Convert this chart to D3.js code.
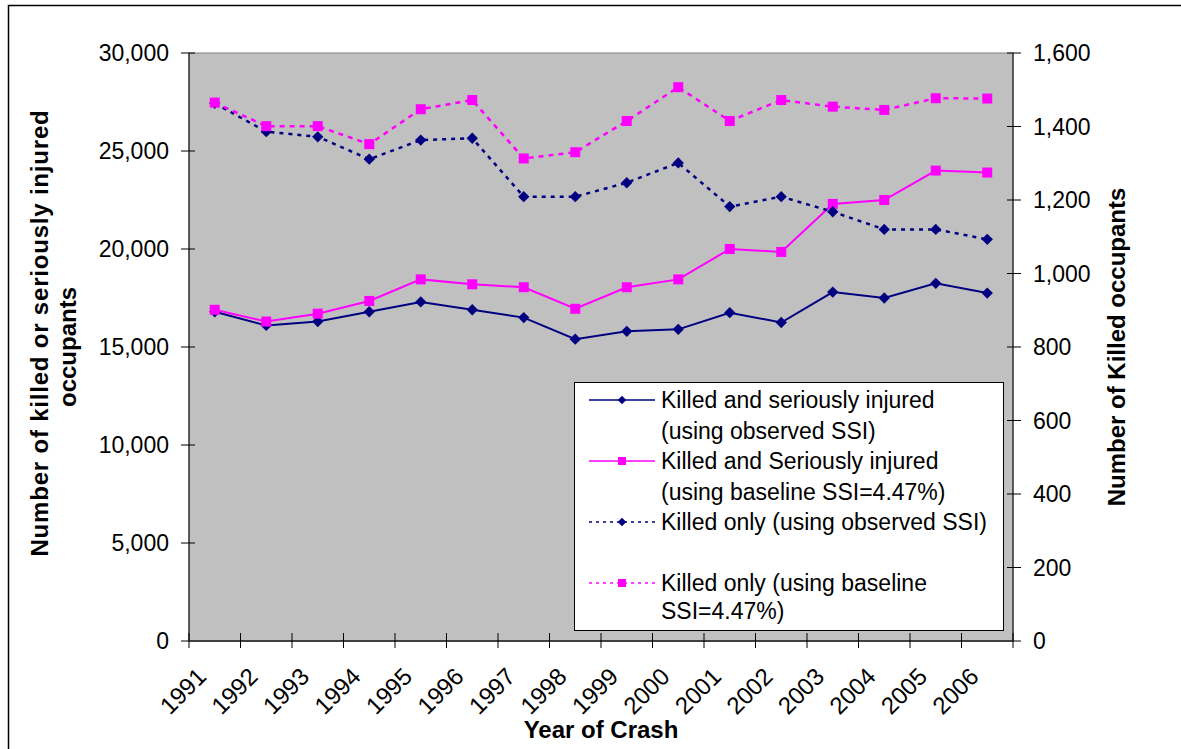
<!DOCTYPE html>
<html>
<head>
<meta charset="utf-8">
<script src="https://cdn.jsdelivr.net/npm/d3@7"></script>
<style>
  body { margin: 0; background: #fff; }
  text { font-family: Arial, "Liberation Sans", sans-serif; fill: #000; }
</style>
</head>
<body>
<svg id="chart" width="1181" height="749"></svg>
<script>
const years = ["1991","1992","1993","1994","1995","1996","1997","1998","1999","2000","2001","2002","2003","2004","2005","2006"];
const ksiObserved = [16800, 16100, 16300, 16800, 17300, 16900, 16500, 15400, 15800, 15900, 16750, 16250, 17800, 17500, 18250, 17750];
const ksiBaseline = [16900, 16300, 16700, 17350, 18450, 18200, 18050, 16950, 18050, 18450, 20000, 19850, 22300, 22500, 24000, 23900];
const killedObserved = [1463, 1386, 1372, 1311, 1363, 1368, 1209, 1209, 1247, 1301, 1182, 1209, 1168, 1120, 1120, 1093];
const killedBaseline = [1465, 1401, 1401, 1352, 1447, 1472, 1313, 1330, 1415, 1507, 1415, 1472, 1454, 1445, 1477, 1476];
const leftTicks = [0, 5000, 10000, 15000, 20000, 25000, 30000];
const rightTicks = [0, 200, 400, 600, 800, 1000, 1200, 1400, 1600];

const navy = "#000080", magenta = "#FF00FF";
const plot = {left: 189, right: 1013, top: 53, bottom: 641};

const svg = d3.select("#chart");

// outer chart frame
svg.append("rect")
    .attr("x", 8.5).attr("y", 5.5)
    .attr("width", 1200).attr("height", 800)
    .attr("fill", "none").attr("stroke", "#000").attr("stroke-width", 1.5);

const x = d3.scaleBand().domain(years).range([plot.left, plot.right]);
const yL = d3.scaleLinear().domain([0, 30000]).range([plot.bottom, plot.top]);
const yR = d3.scaleLinear().domain([0, 1600]).range([plot.bottom, plot.top]);
const cx = d => x(d) + x.bandwidth() / 2;

// plot area
svg.append("rect")
    .attr("x", plot.left).attr("y", plot.top)
    .attr("width", plot.right - plot.left).attr("height", plot.bottom - plot.top)
    .attr("fill", "#C0C0C0").attr("stroke", "#808080").attr("stroke-width", 1);

const fmt = d3.format(",");

// left axis
const gL = svg.append("g").attr("transform", `translate(${plot.left},0)`);
gL.append("line").attr("y1", plot.top).attr("y2", plot.bottom).attr("stroke", "#000");
gL.selectAll("line.tk").data(leftTicks).enter().append("line")
    .attr("class", "tk")
    .attr("x1", -8).attr("x2", 6)
    .attr("y1", d => yL(d)).attr("y2", d => yL(d))
    .attr("stroke", "#000");
gL.selectAll("text").data(leftTicks).enter().append("text")
    .attr("x", -20).attr("y", d => yL(d)).attr("dy", "0.36em")
    .attr("text-anchor", "end").style("font-size", "23px")
    .text(d => fmt(d));

// right axis
const gR = svg.append("g").attr("transform", `translate(${plot.right},0)`);
gR.append("line").attr("y1", plot.top).attr("y2", plot.bottom).attr("stroke", "#000");
gR.selectAll("line.tk").data(rightTicks).enter().append("line")
    .attr("class", "tk")
    .attr("x1", -6).attr("x2", 8)
    .attr("y1", d => yR(d)).attr("y2", d => yR(d))
    .attr("stroke", "#000");
gR.selectAll("text").data(rightTicks).enter().append("text")
    .attr("x", 20).attr("y", d => yR(d)).attr("dy", "0.36em")
    .attr("text-anchor", "start").style("font-size", "23px")
    .text(d => fmt(d));

// bottom axis
const gB = svg.append("g");
gB.append("line").attr("x1", plot.left).attr("x2", plot.right)
    .attr("y1", plot.bottom).attr("y2", plot.bottom)
    .attr("stroke", "#404040").attr("stroke-width", 2);
const edges = years.map(d => x(d)).concat([plot.right]);
gB.selectAll("line.tk").data(edges).enter().append("line")
    .attr("class", "tk")
    .attr("x1", d => d).attr("x2", d => d)
    .attr("y1", plot.bottom - 8).attr("y2", plot.bottom + 7)
    .attr("stroke", "#000");
gB.selectAll("text").data(years).enter().append("text")
    .attr("transform", d => `translate(${cx(d) - 7},678) rotate(-45)`)
    .attr("text-anchor", "end").style("font-size", "24px")
    .text(d => d);

// axis titles
svg.append("text")
    .attr("transform", "translate(48,333) rotate(-90)")
    .attr("text-anchor", "middle").style("font-size", "24px").style("font-weight", "bold")
    .style("letter-spacing", "0.8px")
    .text("Number of killed or seriously injured");
svg.append("text")
    .attr("transform", "translate(76,347) rotate(-90)")
    .attr("text-anchor", "middle").style("font-size", "24px").style("font-weight", "bold")
    .text("occupants");
svg.append("text")
    .attr("transform", "translate(1125,347) rotate(-90)")
    .attr("text-anchor", "middle").style("font-size", "24px").style("font-weight", "bold")
    .text("Number of Killed occupants");
svg.append("text")
    .attr("x", 601).attr("y", 738)
    .attr("text-anchor", "middle").style("font-size", "24px").style("font-weight", "bold")
    .text("Year of Crash");

// series
const series = [
  {name: "ksiObs", values: ksiObserved, y: yL, color: navy, dash: null, marker: "diamond"},
  {name: "ksiBase", values: ksiBaseline, y: yL, color: magenta, dash: null, marker: "square"},
  {name: "kObs", values: killedObserved, y: yR, color: navy, dash: "4,5", marker: "diamond"},
  {name: "kBase", values: killedBaseline, y: yR, color: magenta, dash: "5,5", marker: "square"}
];

const sq = d3.symbol().type(d3.symbolSquare);

series.forEach(s => {
  const line = d3.line().x((d, i) => cx(years[i])).y(d => s.y(d));
  svg.append("path")
      .attr("d", line(s.values))
      .attr("fill", "none").attr("stroke", s.color)
      .attr("stroke-width", s.dash ? 2.5 : 2)
      .attr("stroke-dasharray", s.dash);
  svg.selectAll(null).data(s.values).enter().append("path")
      .attr("transform", (d, i) => `translate(${cx(years[i])},${s.y(d)})` + (s.marker === "diamond" ? " rotate(45)" : ""))
      .attr("d", sq.size(s.marker === "diamond" ? 64 : 100)())
      .attr("fill", s.color);
});

// legend
const lg = svg.append("g");
lg.append("rect").attr("x", 574.5).attr("y", 382.5).attr("width", 429).attr("height", 248)
    .attr("fill", "#fff").attr("stroke", "#000").attr("stroke-width", 1);
const legendItems = [
  {s: series[0], lines: ["Killed and seriously injured", "(using observed SSI)"], ys: [400, 431]},
  {s: series[1], lines: ["Killed and Seriously injured", "(using baseline SSI=4.47%)"], ys: [461, 492]},
  {s: series[2], lines: ["Killed only (using observed SSI)"], ys: [522]},
  {s: series[3], lines: ["Killed only (using baseline", "SSI=4.47%)"], ys: [583, 611]}
];
legendItems.forEach(it => {
  const y0 = it.ys[0];
  lg.append("line").attr("x1", 589).attr("x2", 655).attr("y1", y0).attr("y2", y0)
      .attr("stroke", it.s.color).attr("stroke-width", 1.5)
      .attr("stroke-dasharray", it.s.dash ? "3,4" : null);
  lg.append("path")
      .attr("transform", `translate(622,${y0})` + (it.s.marker === "diamond" ? " rotate(45)" : ""))
      .attr("d", sq.size(it.s.marker === "diamond" ? 36 : 64)())
      .attr("fill", it.s.color);
  it.lines.forEach((t, j) => {
    lg.append("text").attr("x", 661).attr("y", it.ys[j]).attr("dy", "0.36em")
        .style("font-size", "23px").text(t);
  });
});
</script>
</body>
</html>
